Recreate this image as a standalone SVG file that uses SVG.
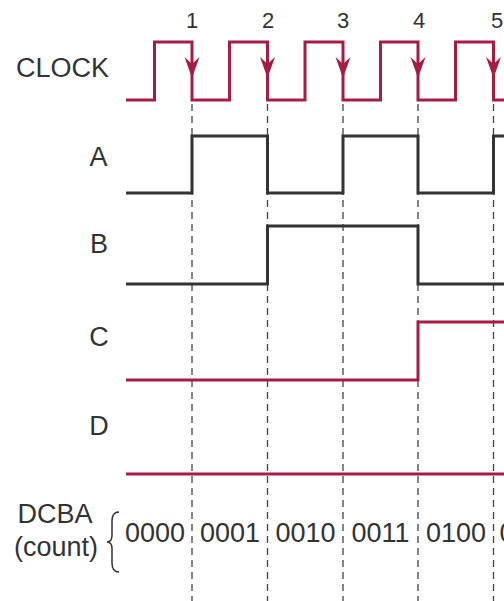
<svg xmlns="http://www.w3.org/2000/svg" width="504" height="601" viewBox="0 0 504 601">
<style>
.lbl{font-family:"Liberation Sans",Arial,sans-serif;fill:#333;font-size:27px}
.num{font-family:"Liberation Sans",Arial,sans-serif;fill:#333;font-size:22px;text-anchor:middle}
.red{fill:none;stroke:#a51d42;stroke-width:3}
.blk{fill:none;stroke:#333;stroke-width:3}
.dash{stroke:#444;stroke-width:1.3;stroke-dasharray:7 5}
</style>
<defs>
<path id="ah" d="M0,78 L-7.5,57 L0,64 L7.5,57 Z" fill="#a51d42"/>
</defs>
<rect width="504" height="601" fill="#fff"/>
<g id="grid" class="connectors">
<line class="dash" x1="192" y1="104" x2="192" y2="601"/>
<line class="dash" x1="267.5" y1="104" x2="267.5" y2="601"/>
<line class="dash" x1="343" y1="104" x2="343" y2="601"/>
<line class="dash" x1="418" y1="104" x2="418" y2="601"/>
<line class="dash" x1="493.5" y1="104" x2="493.5" y2="601"/>
</g>
<g id="clock">
<text class="lbl" x="16" y="77">CLOCK</text>
<path class="red" d="M126,100 H154.5 V42 H192 V100 H229.5 V42 H267.5 V100 H305 V42 H343 V100 H380.5 V42 H418 V100 H455.5 V42 H493.5 V100 H506"/>
<use href="#ah" x="192"/>
<use href="#ah" x="267.5"/>
<use href="#ah" x="343"/>
<use href="#ah" x="418"/>
<use href="#ah" x="493.5"/>
<text class="num" x="192" y="28">1</text>
<text class="num" x="268" y="28">2</text>
<text class="num" x="343" y="28">3</text>
<text class="num" x="419" y="28">4</text>
<text class="num" x="497" y="28">5</text>
</g>
<g id="A">
<text class="lbl" x="98.5" y="166" text-anchor="middle">A</text>
<path class="blk" d="M126,193 H192 V136 H267.5 V193 H343 V136 H418 V193 H493.5 V136 H506"/>
</g>
<g id="B">
<text class="lbl" x="99" y="253" text-anchor="middle">B</text>
<path class="blk" d="M126,284 H267.5 V226 H418 V284 H506"/>
</g>
<g id="C">
<text class="lbl" x="99" y="346" text-anchor="middle">C</text>
<path class="red" d="M126,380 H418 V322 H506"/>
</g>
<g id="D">
<text class="lbl" x="99" y="435" text-anchor="middle">D</text>
<path class="red" d="M126,474 H506"/>
</g>
<g id="count">
<text class="lbl" x="55" y="523" text-anchor="middle">DCBA</text>
<text class="lbl" x="56" y="556" text-anchor="middle">(count)</text>
<path d="M119,512 C113.5,512 112,515.5 112,521 V535 C112,539.5 110.5,542 107,542 C110.5,542 112,544.5 112,549 V563 C112,568.5 113.5,572 119,572" fill="none" stroke="#333" stroke-width="1.5"/>
<text class="lbl" x="155" y="542" text-anchor="middle">0000</text>
<text class="lbl" x="230" y="542" text-anchor="middle">0001</text>
<text class="lbl" x="305.5" y="542" text-anchor="middle">0010</text>
<text class="lbl" x="380.5" y="542" text-anchor="middle">0011</text>
<text class="lbl" x="456" y="542" text-anchor="middle">0100</text>
<text class="lbl" x="499.5" y="542">0101</text>
</g>
</svg>
